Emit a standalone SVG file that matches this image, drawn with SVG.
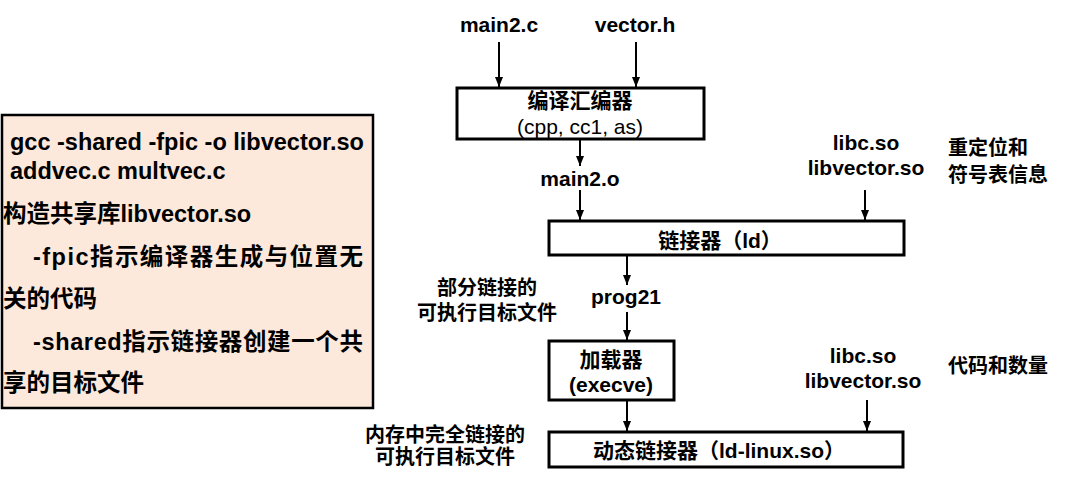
<svg xmlns="http://www.w3.org/2000/svg" width="1074" height="477" viewBox="0 0 1074 477">
<style>
  text { font-family: "Liberation Sans", "Noto Sans CJK SC", sans-serif; fill: #000; }
  .b { font-weight: bold; }
  .note { font-size: 23.5px; font-weight: bold; }
  .lbl { font-size: 21px; font-weight: bold; }
  .cj { font-size: 20px; font-weight: bold; }
  .box { fill: #fff; stroke: #000; stroke-width: 3; }
  .conn { stroke: #000; stroke-width: 2; fill: none; marker-end: url(#ah); }
</style>
<defs>
  <marker id="ah" markerUnits="userSpaceOnUse" markerWidth="10" markerHeight="10" viewBox="0 0 10 10" refX="10" refY="5" orient="auto">
    <path d="M0,1 L10,5 L0,9 Z" fill="#000"/>
  </marker>
</defs>
<rect width="1074" height="477" fill="#fff"/>

<g id="note">
  <rect x="2" y="115" width="371" height="293" fill="#fde9dc" stroke="#000" stroke-width="2.5"/>
  <text class="note" x="10" y="150">gcc -shared -fpic -o libvector.so</text>
  <text class="note" x="10" y="179">addvec.c multvec.c</text>
  <text class="note" x="3" y="222">构造共享库libvector.so</text>
  <text class="note" x="33" y="265" textLength="330" lengthAdjust="spacing">-fpic指示编译器生成与位置无</text>
  <text class="note" x="3" y="307">关的代码</text>
  <text class="note" x="33" y="350" textLength="330" lengthAdjust="spacing">-shared指示链接器创建一个共</text>
  <text class="note" x="3" y="391">享的目标文件</text>
</g>

<g id="main2c"><text class="lbl" x="499" y="32" text-anchor="middle">main2.c</text></g>
<g id="vectorh"><text class="lbl" x="635" y="32" text-anchor="middle">vector.h</text></g>

<g id="compiler">
  <rect class="box" x="457" y="88" width="247" height="51"/>
  <text class="lbl" x="580" y="108" text-anchor="middle">编译汇编器</text>
  <text x="580" y="134" text-anchor="middle" font-size="21">(cpp, cc1, as)</text>
</g>

<g id="main2o"><text class="lbl" x="580" y="186" text-anchor="middle">main2.o</text></g>

<g id="libs1">
  <text class="lbl" x="866" y="150" text-anchor="middle">libc.so</text>
  <text class="lbl" x="866" y="175" text-anchor="middle">libvector.so</text>
</g>
<g id="reloc">
  <text class="cj" x="948" y="155">重定位和</text>
  <text class="cj" x="948" y="182">符号表信息</text>
</g>

<g id="linker">
  <rect class="box" x="549" y="221" width="355" height="34"/>
  <text class="lbl" x="720" y="248" text-anchor="middle">链接器（ld）</text>
</g>

<g id="partial">
  <text class="cj" x="487" y="295" text-anchor="middle">部分链接的</text>
  <text class="cj" x="487" y="320" text-anchor="middle">可执行目标文件</text>
</g>
<g id="prog21"><text class="lbl" x="626" y="304" text-anchor="middle">prog21</text></g>

<g id="loader">
  <rect class="box" x="549" y="341" width="125" height="59"/>
  <text class="lbl" x="611" y="367" text-anchor="middle">加载器</text>
  <text class="lbl" x="611" y="392" text-anchor="middle">(execve)</text>
</g>

<g id="libs2">
  <text class="lbl" x="863" y="363" text-anchor="middle">libc.so</text>
  <text class="lbl" x="863" y="388" text-anchor="middle">libvector.so</text>
</g>
<g id="codedata"><text class="cj" x="948" y="373">代码和数量</text></g>

<g id="inmem">
  <text class="cj" x="445" y="442" text-anchor="middle">内存中完全链接的</text>
  <text class="cj" x="445" y="464" text-anchor="middle">可执行目标文件</text>
</g>

<g id="dynlinker">
  <rect class="box" x="549" y="432" width="354" height="35"/>
  <text class="lbl" x="719" y="458" text-anchor="middle">动态链接器（ld-linux.so）</text>
</g>

<g id="connectors">
  <line class="conn" x1="499" y1="42" x2="499" y2="87"/>
  <line class="conn" x1="636" y1="42" x2="636" y2="87"/>
  <line class="conn" x1="580" y1="140" x2="580" y2="166"/>
  <line class="conn" x1="580" y1="190" x2="580" y2="220"/>
  <line class="conn" x1="865" y1="190" x2="865" y2="220"/>
  <line class="conn" x1="627" y1="256" x2="627" y2="285"/>
  <line class="conn" x1="627" y1="312" x2="627" y2="340"/>
  <line class="conn" x1="627" y1="401" x2="627" y2="431"/>
  <line class="conn" x1="867" y1="400" x2="867" y2="431"/>
</g>
</svg>
